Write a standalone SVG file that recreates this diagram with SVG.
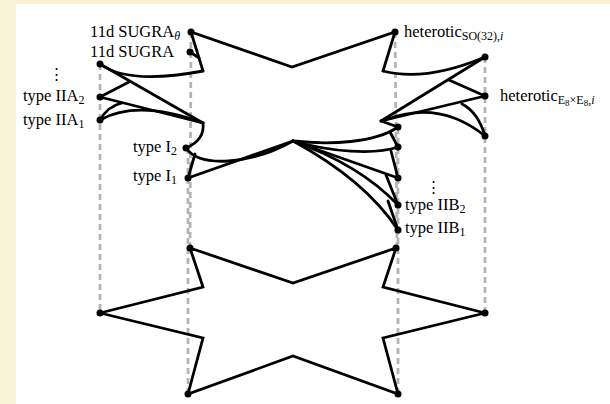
<svg xmlns="http://www.w3.org/2000/svg" width="610" height="404" viewBox="0 0 610 404">
<style>
.e{fill:none;stroke:#000;stroke-width:2.8;stroke-linejoin:miter;stroke-linecap:round}
.d{fill:none;stroke:#b4b4b4;stroke-width:2.8;stroke-dasharray:6 4}
.n{fill:#000}
text{font-family:"Liberation Serif","DejaVu Serif",serif;font-size:16.5px;fill:#000}
.s{font-size:12px}
.ss{font-size:9px}
.v{font-family:"DejaVu Serif",serif;font-size:15px}
</style>
<rect width="610" height="404" fill="#f9f1d6"/>
<rect x="16" y="4" width="594" height="400" fill="#fff"/>
<g id="guides">
<line class="d" x1="100" y1="64" x2="100" y2="313"/>
<line class="d" x1="191" y1="32" x2="190" y2="248"/>
<line class="d" x1="188" y1="148" x2="188" y2="394"/>
<line class="d" x1="395" y1="32" x2="397" y2="248"/>
<line class="d" x1="398" y1="128" x2="398" y2="394"/>
<line class="d" x1="485" y1="57" x2="485" y2="313"/>
</g>
<g id="connectors">
<path class="e" d="M203,71 L191,32 L292,67 L395,32 L383,71"/>
<path class="e" d="M190,52 L199,58"/>
<path class="e" d="M203,71 Q128,85 100,64"/>
<path class="e" d="M100,64 L203,123"/>
<path class="e" d="M100,97 L129,82"/>
<path class="e" d="M100,97 L203,123"/>
<path class="e" d="M122,103 Q108,106 100,120"/>
<path class="e" d="M100,120 Q138,99 203,123"/>
<path class="e" d="M203,123 Q205,140 186,148"/>
<path class="e" d="M186,148 C200,168 250,165 293,141"/>
<path class="e" d="M188,178 L293,141"/>
<path class="e" d="M188,178 L195,154"/>
<path class="e" d="M383,71 Q426,82 485,57"/>
<path class="e" d="M485,57 L381,121"/>
<path class="e" d="M449,80 L485,96"/>
<path class="e" d="M485,96 L381,121"/>
<path class="e" d="M462,104 Q478,112 485,136"/>
<path class="e" d="M388,119 Q440,100 485,136"/>
<path class="e" d="M381,121 L398,127"/>
<path class="e" d="M293,141 C330,145 375,143 398,127"/>
<path class="e" d="M390,132 L398,147"/>
<path class="e" d="M293,141 C330,152 375,155 398,147"/>
<path class="e" d="M391,151 L398,178"/>
<path class="e" d="M293,141 L398,178"/>
<path class="e" d="M386,175 L398,205"/>
<path class="e" d="M293,141 Q360,165 398,205"/>
<path class="e" d="M388,201 L398,230"/>
<path class="e" d="M293,141 Q365,180 398,230"/>
<path class="e" d="M190,248 L293,283 L396,248 L383,287 L485,313 L383,338 L398,394 L293,356 L188,394 L203,338 L100,313 L203,287 Z"/>
</g>
<g id="nodes">
<g id="sugra-theta"><circle class="n" cx="191" cy="32" r="3.5"/><text x="90" y="37">11d SUGRA<tspan class="s" dy="3" font-style="italic">θ</tspan></text></g>
<g id="sugra"><circle class="n" cx="190" cy="52" r="3.5"/><text x="90" y="57">11d SUGRA</text></g>
<g id="iia-dots"><circle class="n" cx="100" cy="64" r="3.5"/><text class="v" x="56" y="79" text-anchor="middle">⋮</text></g>
<g id="iia2"><circle class="n" cx="100" cy="97" r="3.5"/><text x="23" y="101">type IIA<tspan class="s" dy="3">2</tspan></text></g>
<g id="iia1"><circle class="n" cx="100" cy="120" r="3.5"/><text x="23" y="125">type IIA<tspan class="s" dy="3">1</tspan></text></g>
<g id="i2"><circle class="n" cx="186" cy="148" r="3.5"/><text x="133" y="152">type I<tspan class="s" dy="3">2</tspan></text></g>
<g id="i1"><circle class="n" cx="188" cy="178" r="3.5"/><text x="133" y="181">type I<tspan class="s" dy="3">1</tspan></text></g>
<g id="het-so32"><circle class="n" cx="395" cy="32" r="3.5"/><text x="404" y="37">heterotic<tspan class="s" dy="3">SO(32),<tspan font-style="italic">i</tspan></tspan></text></g>
<g id="het-e8a"><circle class="n" cx="485" cy="57" r="3.5"/></g>
<g id="het-e8"><circle class="n" cx="485" cy="96" r="3.5"/><text x="500" y="101">heterotic<tspan class="s" dy="3">E</tspan><tspan class="ss" dy="2">8</tspan><tspan class="s" dy="-2">×E</tspan><tspan class="ss" dy="2">8</tspan><tspan class="s" dy="-2">,<tspan font-style="italic">i</tspan></tspan></text></g>
<g id="het-e8c"><circle class="n" cx="485" cy="136" r="3.5"/></g>
<g id="iib-a"><circle class="n" cx="398" cy="127" r="3.5"/></g>
<g id="iib-b"><circle class="n" cx="398" cy="147" r="3.5"/></g>
<g id="iib-dots"><circle class="n" cx="398" cy="178" r="3.5"/><text class="v" x="433" y="192" text-anchor="middle">⋮</text></g>
<g id="iib2"><circle class="n" cx="398" cy="205" r="3.5"/><text x="405" y="210">type IIB<tspan class="s" dy="3">2</tspan></text></g>
<g id="iib1"><circle class="n" cx="398" cy="230" r="3.5"/><text x="405" y="233">type IIB<tspan class="s" dy="3">1</tspan></text></g>
<g id="low-tl"><circle class="n" cx="190" cy="248" r="3.5"/></g>
<g id="low-tr"><circle class="n" cx="396" cy="248" r="3.5"/></g>
<g id="low-l"><circle class="n" cx="100" cy="313" r="3.5"/></g>
<g id="low-r"><circle class="n" cx="485" cy="313" r="3.5"/></g>
<g id="low-bl"><circle class="n" cx="188" cy="394" r="3.5"/></g>
<g id="low-br"><circle class="n" cx="398" cy="394" r="3.5"/></g>
</g>
</svg>
